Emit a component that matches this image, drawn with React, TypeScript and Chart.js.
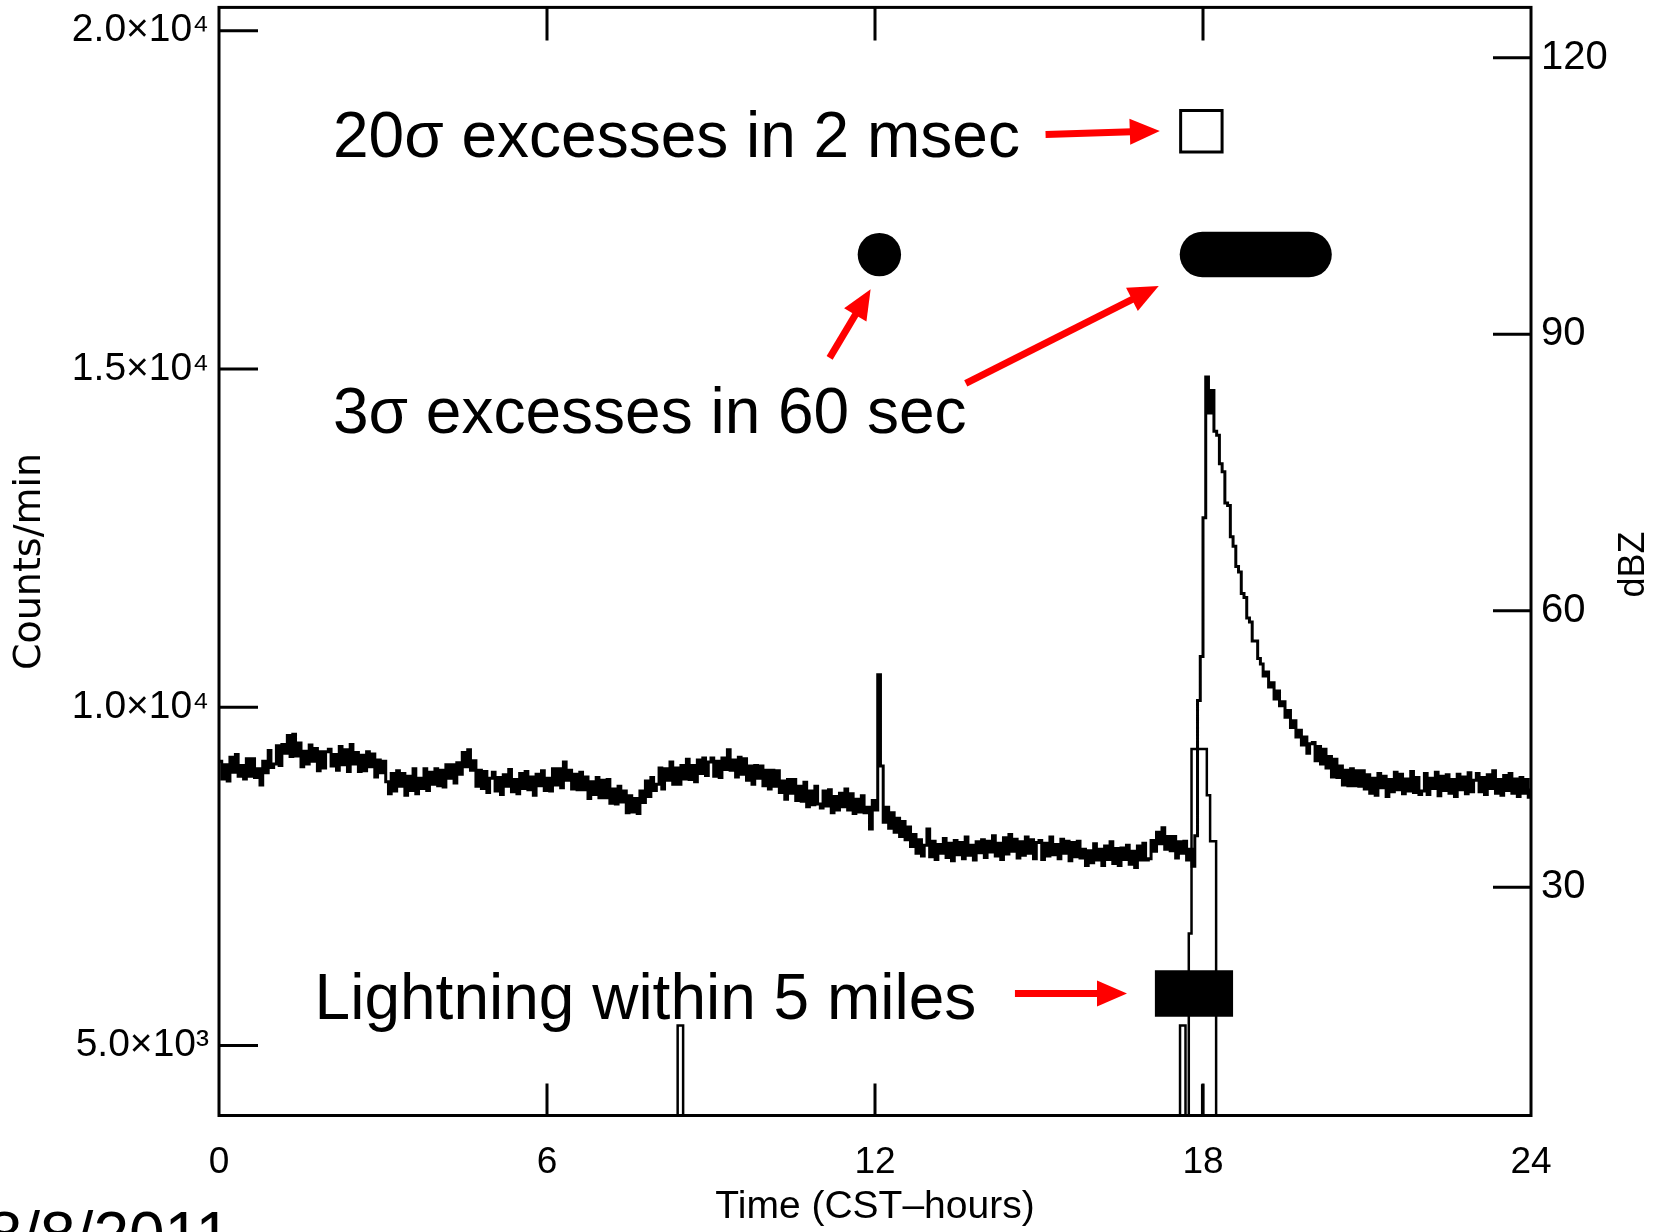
import React, { useEffect, useRef } from "react";
import { Chart, registerables } from "chart.js";

Chart.register(...registerables);

const FONT = '"Liberation Sans", Arial, Helvetica, "DejaVu Sans", sans-serif';
const WIDE_FONT = '"DejaVu Sans", "Liberation Sans", sans-serif';

// ---- axes ----
const hourTicks = [0, 6, 12, 18, 24];
const countTicks = [5000, 10000, 15000, 20000];
const countTickLabels = ["5.0×10³", "1.0×10⁴", "1.5×10⁴", "2.0×10⁴"];
const dbzTicks = [30, 60, 90, 120];

// ---- counts per minute, one value every 0.05 h ----
const binHours = 0.05;
const countsPerMin = [
  9200, 8940, 9150, 8910, 9260, 9040, 9300, 8980, 9140, 8940, 9240, 8980, 9240, 8960, 9090, 8850, 9200, 9030, 9360, 9110,
  9160, 9430, 9140, 9450, 9320, 9580, 9270, 9600, 9280, 9470, 9120, 9350, 9160, 9440, 9200, 9390, 9060, 9340, 9100, 9340,
  9380, 9130, 9300, 9070, 9420, 9150, 9370, 9050, 9450, 9160, 9330, 9050, 9290, 9060, 9340, 9120, 9310, 8970, 9220, 9030,
  9200, 8900, 8720, 9020, 8760, 9060, 8830, 9020, 8700, 8980, 8770, 9090, 8720, 8950, 8800, 9090, 8770, 9040, 8860, 9090,
  8840, 9070, 8820, 9150, 8950, 9150, 8880, 9180, 9010, 9330, 9120, 9370, 9070, 9210, 8830, 9070, 8800, 9050, 8740, 8950,
  9040, 8760, 8960, 8710, 9000, 8830, 9080, 8750, 8930, 8720, 9020, 8800, 9050, 8780, 8970, 8700, 9010, 8840, 9060, 8770,
  8950, 8760, 9090, 8850, 9090, 8810, 9190, 8920, 9070, 8790, 9010, 8780, 9040, 8780, 8970, 8650, 8900, 8710, 8960, 8660,
  8920, 8660, 8930, 8580, 8790, 8570, 8830, 8600, 8760, 8440, 8690, 8450, 8650, 8430, 8760, 8590, 8910, 8680, 8960, 8770,
  8860, 9100, 8790, 9090, 8920, 9190, 8860, 9100, 8860, 9140, 8940, 9230, 8930, 9140, 8900, 9220, 9020, 9250, 8990, 9190,
  9250, 8980, 9200, 8960, 9250, 9080, 9370, 9070, 9220, 8970, 9260, 9010, 9240, 8920, 9130, 8860, 9140, 8950, 9130, 8840,
  9070, 8790, 9070, 8830, 9060, 8740, 8910, 8640, 8930, 8730, 8930, 8620, 8830, 8610, 8890, 8530, 8760, 8560, 8830, 8570,
  8510, 8760, 8540, 8780, 8440, 8680, 8480, 8730, 8530, 8790, 8480, 8720, 8430, 8640, 8450, 8690, 8440, 8520, 8200, 8620,
  8480, 10480, 9130, 8300, 8520, 8210, 8440, 8150, 8360, 8090, 8310, 8040, 8230, 7940, 8120, 7840, 8040, 7800, 7960, 8200,
  7790, 8020, 7750, 7970, 7840, 8060, 7780, 7990, 7730, 8030, 7820, 8000, 7760, 8080, 7810, 7960, 7740, 8010, 7850, 8040,
  7780, 8020, 7860, 8100, 7800, 7990, 7750, 8070, 7830, 8120, 7870, 8050, 7770, 8010, 7810, 8080, 7840, 8040, 7760, 8000,
  8030, 7750, 7990, 7800, 8080, 7820, 7970, 7760, 8050, 7840, 8020, 7730, 8000, 7790, 8020, 7770, 7900, 7660, 7880, 7700,
  7980, 7740, 7900, 7660, 7950, 7750, 8010, 7690, 7910, 7660, 7920, 7750, 7960, 7680, 7870, 7630, 7950, 7740, 7990, 7740,
  7760, 8030, 7870, 8150, 7980, 8220, 7900, 8090, 7880, 8090, 7770, 8010, 7840, 8020, 7740, 7900, 7650, 8100, 10100, 10750,
  12800, 14880, 14350, 14680, 14080, 14020, 13600, 13480, 13020, 12980, 12520, 12380, 12080, 12000, 11680, 11620, 11320, 11260, 10980, 10980,
  10720, 10640, 10460, 10520, 10300, 10360, 10120, 10240, 10020, 10080, 9850, 9950, 9700, 9800, 9560, 9660, 9440, 9560, 9320, 9460,
  9480, 9210, 9420, 9160, 9380, 9100, 9270, 8970, 9230, 8960, 9130, 8850, 9070, 8840, 9090, 8840, 9060, 8830, 9060, 8790,
  9000, 8730, 8950, 8700, 9020, 8810, 8980, 8680, 8930, 8750, 9040, 8780, 9010, 8720, 8940, 8760, 9050, 8740, 8960, 8710,
  8760, 9020, 8710, 8950, 8800, 9040, 8690, 8980, 8770, 9000, 8730, 8930, 8680, 9010, 8780, 8970, 8720, 9030, 8750, 8920,
  9020, 8750, 8960, 8710, 9000, 8800, 9060, 8730, 8930, 8700, 8990, 8770, 9020, 8730, 8940, 8680, 8960, 8730, 8930, 8670,
  8800,
];

// ---- radar reflectivity (dBZ), step edges ----
const dbzHours = [0, 8.39, 8.49, 17.58, 17.68, 17.74, 17.79, 18.07, 18.13, 18.24, 24];
const dbzValues = [0, 15, 0, 15, 0, 25, 45, 40, 35, 0, 0];
const dbzShortHours = [17.97, 17.985, 18.0];
const dbzShortValues = [0, 8.5, 0];

// ---- event markers (hours) ----
const sigma20Hours = [17.97];
const sigma3Hours = [12.08];
const sigma3SpanHours = [17.99, 19.94];
const lightningSpanHours = [17.12, 18.55];

// ---- annotation layout (in axis units: hours, counts/min) ----
const markerRow = { sigma20: 18512, sigma3: 16690, lightning: 5768 };
const annotationTexts = [
  { text: "20σ excesses in 2 msec", x: 2.085, y: 18136 },
  { text: "3σ excesses in 60 sec", x: 2.085, y: 14049 },
  { text: "Lightning within 5 miles", x: 1.749, y: 5393 },
];
const arrows = [
  { from: [15.12, 18466], to: [17.21, 18518] },
  { from: [11.17, 15163], to: [11.92, 16179] },
  { from: [13.66, 14786], to: [17.19, 16227] },
  { from: [14.56, 5768], to: [16.61, 5768] },
];

const overlay = {
  id: "overlay",
  afterDatasetsDraw(chart: any) {
    const { ctx, chartArea: a, scales } = chart;
    const xs = scales.x, ys = scales.y, y2 = scales.y2;
    ctx.save();
    // red arrows
    ctx.fillStyle = "#ff0000";
    ctx.strokeStyle = "#ff0000";
    for (const ar of arrows) {
      const x0 = xs.getPixelForValue(ar.from[0]);
      const y0 = ys.getPixelForValue(ar.from[1]);
      const x1 = xs.getPixelForValue(ar.to[0]);
      const y1 = ys.getPixelForValue(ar.to[1]);
      const ang = Math.atan2(y1 - y0, x1 - x0);
      const L = 30, W = 13;
      const c = Math.cos(ang), s = Math.sin(ang);
      const bx = x1 - L * c, by = y1 - L * s;
      ctx.lineWidth = 7;
      ctx.lineCap = "butt";
      ctx.beginPath();
      ctx.moveTo(x0, y0);
      ctx.lineTo(bx + 2 * c, by + 2 * s);
      ctx.stroke();
      ctx.beginPath();
      ctx.moveTo(x1, y1);
      ctx.lineTo(bx - W * s, by + W * c);
      ctx.lineTo(bx + W * s, by - W * c);
      ctx.closePath();
      ctx.fill();
    }
    // annotation texts
    ctx.fillStyle = "#000";
    ctx.font = `64px ${FONT}`;
    ctx.textAlign = "left";
    ctx.textBaseline = "alphabetic";
    for (const t of annotationTexts) {
      ctx.fillText(t.text, xs.getPixelForValue(t.x), ys.getPixelForValue(t.y));
    }
    // frame + inward ticks
    ctx.strokeStyle = "#000";
    ctx.lineWidth = 3;
    ctx.lineCap = "butt";
    ctx.strokeRect(a.left, a.top, a.right - a.left, a.bottom - a.top);
    ctx.beginPath();
    for (const v of countTicks) {
      const p = ys.getPixelForValue(v);
      ctx.moveTo(a.left, p);
      ctx.lineTo(a.left + 39, p);
    }
    for (const v of dbzTicks) {
      const p = y2.getPixelForValue(v);
      ctx.moveTo(a.right, p);
      ctx.lineTo(a.right - 38, p);
    }
    for (const v of hourTicks) {
      if (v === hourTicks[0] || v === hourTicks[hourTicks.length - 1]) continue;
      const p = xs.getPixelForValue(v);
      ctx.moveTo(p, a.bottom);
      ctx.lineTo(p, a.bottom - 32);
      ctx.moveTo(p, a.top);
      ctx.lineTo(p, a.top + 33);
    }
    ctx.stroke();
    // right axis title, reading upward like the left one
    ctx.save();
    ctx.translate(1634.5, (a.top + a.bottom) / 2 + 3);
    ctx.rotate(-Math.PI / 2);
    ctx.font = `36px ${FONT}`;
    ctx.textAlign = "center";
    ctx.textBaseline = "middle";
    ctx.fillText("dBZ", 0, 0);
    ctx.restore();
    // date
    ctx.font = `64px ${FONT}`;
    ctx.textAlign = "right";
    ctx.textBaseline = "alphabetic";
    ctx.fillText("8/8/2011", 231, 1257);
    ctx.restore();
  },
};

function zeroPad(s: any) {
  s.paddingTop = 0;
  s.paddingBottom = 0;
  s.paddingLeft = 0;
  s.paddingRight = 0;
}

export default function App() {
  const ref = useRef<HTMLCanvasElement>(null);
  useEffect(() => {
    document.body.style.margin = "0";
    const countsData = countsPerMin.map((v, i) => ({ x: i * binHours, y: v }));
    const dbzData = dbzHours.map((h, i) => ({ x: h, y: dbzValues[i] }));
    const dbzShortData = dbzShortHours.map((h, i) => ({ x: h, y: dbzShortValues[i] }));
    const chart = new Chart(ref.current as HTMLCanvasElement, {
      type: "line",
      data: {
        datasets: [
          {
            data: countsData,
            yAxisID: "y",
            borderColor: "#000",
            borderWidth: 3,
            stepped: true,
            pointRadius: 0,
          },
          {
            data: dbzData,
            yAxisID: "y2",
            borderColor: "#000",
            borderWidth: 2.5,
            stepped: true,
            pointRadius: 0,
          },
          {
            data: dbzShortData,
            yAxisID: "y2",
            borderColor: "#000",
            borderWidth: 2.5,
            stepped: true,
            pointRadius: 0,
          },
          {
            data: sigma20Hours.map((h) => ({ x: h, y: markerRow.sigma20 })),
            yAxisID: "y",
            showLine: false,
            pointStyle: "rect",
            pointRadius: 29.3,
            pointBorderWidth: 3,
            pointBorderColor: "#000",
            pointBackgroundColor: "rgba(0,0,0,0)",
          },
          {
            data: sigma3Hours.map((h) => ({ x: h, y: markerRow.sigma3 })),
            yAxisID: "y",
            showLine: false,
            pointStyle: "circle",
            pointRadius: 21.7,
            pointBorderWidth: 0,
            pointBackgroundColor: "#000",
          },
          {
            data: sigma3SpanHours.map((h) => ({ x: h, y: markerRow.sigma3 })),
            yAxisID: "y",
            borderColor: "#000",
            borderWidth: 45.5,
            borderCapStyle: "round",
            pointRadius: 0,
          },
          {
            data: lightningSpanHours.map((h) => ({ x: h, y: markerRow.lightning })),
            yAxisID: "y",
            borderColor: "#000",
            borderWidth: 46.6,
            borderCapStyle: "butt",
            pointRadius: 0,
          },
        ],
      } as any,
      options: {
        animation: false,
        responsive: false,
        maintainAspectRatio: false,
        events: [],
        layout: { autoPadding: false, padding: { top: 7.4, left: 0, right: 0, bottom: 0 } },
        plugins: { legend: { display: false }, tooltip: { enabled: false } },
        scales: {
          x: {
            type: "linear",
            position: "bottom",
            min: 0,
            max: 24,
            afterBuildTicks: (s: any) => {
              s.ticks = hourTicks.map((v) => ({ value: v }));
            },
            afterFit: (s: any) => {
              s.height = 116.5;
              zeroPad(s);
            },
            grid: { display: false, drawTicks: false },
            border: { display: false },
            ticks: {
              font: { family: FONT, size: 37 },
              color: "#000",
              padding: 25,
              maxRotation: 0,
              autoSkip: false,
            },
            title: {
              display: true,
              text: "Time (CST–hours)",
              font: { family: FONT, size: 39 },
              color: "#000",
              padding: { top: 0, bottom: 1 },
            },
          },
          y: {
            type: "linear",
            position: "left",
            min: 3965,
            max: 20344,
            afterBuildTicks: (s: any) => {
              s.ticks = countTicks.map((v) => ({ value: v }));
            },
            afterFit: (s: any) => {
              s.width = 219;
              zeroPad(s);
            },
            grid: { display: false, drawTicks: false },
            border: { display: false },
            ticks: {
              font: { family: FONT, size: 39 },
              color: "#000",
              padding: 10,
              callback: (v: any) => {
                const i = countTicks.indexOf(Number(v));
                return i >= 0 ? countTickLabels[i] : "";
              },
            },
            title: {
              display: true,
              text: "Counts/min",
              font: { family: WIDE_FONT, size: 38 },
              color: "#000",
              padding: { top: 7.2, bottom: 0 },
            },
          },
          y2: {
            type: "linear",
            position: "right",
            min: 5.25,
            max: 125.45,
            afterBuildTicks: (s: any) => {
              s.ticks = dbzTicks.map((v) => ({ value: v }));
            },
            afterFit: (s: any) => {
              s.width = 130;
              zeroPad(s);
            },
            grid: { display: false, drawTicks: false },
            border: { display: false },
            ticks: { font: { family: FONT, size: 40 }, color: "#000", padding: 10 },
            title: { display: false },
          },
        },
      } as any,
      plugins: [overlay],
    });
    return () => chart.destroy();
  }, []);
  return (
    <div style={{ width: 1661, height: 1232, overflow: "hidden", background: "#fff" }}>
      <canvas ref={ref} width={1661} height={1232} style={{ display: "block" }} />
    </div>
  );
}
